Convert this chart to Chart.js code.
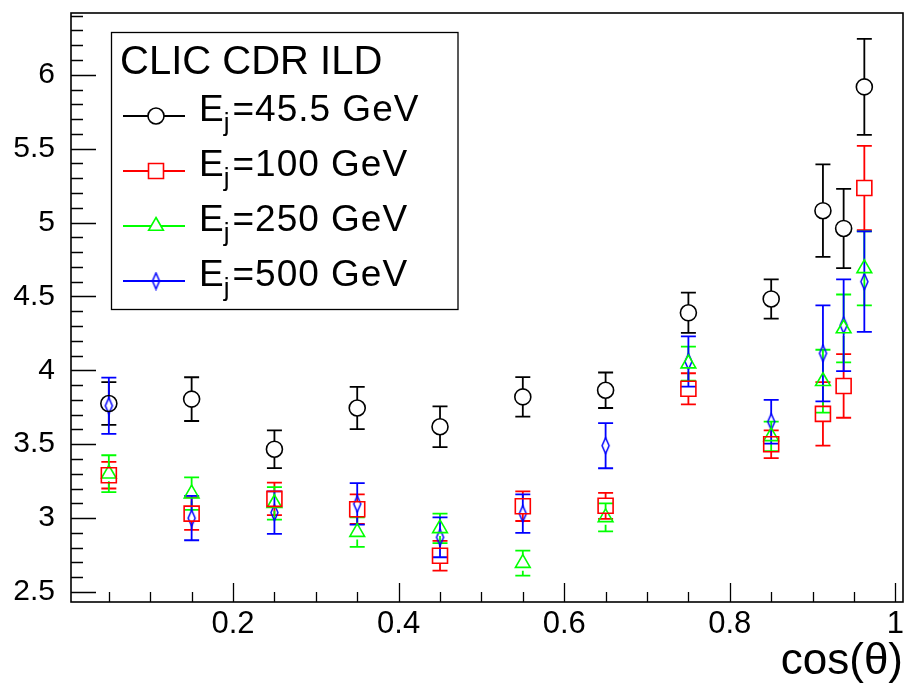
<!DOCTYPE html>
<html>
<head>
<meta charset="utf-8">
<script src="https://cdn.jsdelivr.net/npm/chart.js@4/dist/chart.umd.min.js"></script>
<style>
  html, body { margin: 0; padding: 0; background: #fff; }
  #c { display: block; }
</style>
</head>
<body>
<canvas id="c" width="904" height="686"></canvas>
<script>
// ── Datos ─────────────────────────────────────────────────────────────────

const cosTheta = [0.05, 0.15, 0.25, 0.35, 0.45, 0.55, 0.65, 0.75, 0.85, 0.9125, 0.9375, 0.9625]

const ej45 = [3.775, 3.805, 3.466, 3.745, 3.618, 3.82, 3.865, 4.389, 4.483, 5.08, 4.96, 5.918]
const ej45Err = [0.145, 0.148, 0.128, 0.143, 0.138, 0.134, 0.12, 0.136, 0.133, 0.313, 0.268, 0.325]

const ej100 = [3.29, 3.03, 3.13, 3.06, 2.745, 3.08, 3.083, 3.875, 3.5, 3.705, 3.894, 5.234]
const ej100Err = [0.09, 0.11, 0.11, 0.1, 0.1, 0.1, 0.088, 0.105, 0.094, 0.215, 0.215, 0.285]

const ej250 = [3.3, 3.165, 3.1, 2.905, 2.93, 2.695, 3.005, 4.045, 3.553, 3.926, 4.283, 4.69]
const ej250Err = [0.125, 0.11, 0.11, 0.1, 0.1, 0.085, 0.095, 0.115, 0.1, 0.213, 0.23, 0.25]

const ej500 = [3.76, 3.0, 3.037, 3.096, 2.87, 3.03, 3.49, 4.06, 3.652, 4.115, 4.305, 4.6]
const ej500Err = [0.19, 0.15, 0.144, 0.14, 0.135, 0.13, 0.153, 0.17, 0.148, 0.325, 0.31, 0.34]

const energies = ['45.5', '100', '250', '500']
const legendTitle = 'CLIC CDR ILD'
const xTitle = 'cos(\u03B8)'

const xTicks = [0.2, 0.4, 0.6, 0.8, 1]
const yTicks = [2.5, 3, 3.5, 4, 4.5, 5, 5.5, 6]

const FONT = '"Liberation Sans", Arial, Helvetica, sans-serif'

// ── Marcador rombo (azul) ─────────────────────────────────────────────────

function diamondMarker (color) {
  const cv = document.createElement('canvas')
  cv.width = 11; cv.height = 19
  const g = cv.getContext('2d')
  g.strokeStyle = color
  g.lineWidth = 1.5
  g.beginPath()
  g.moveTo(5.5, 1.5); g.lineTo(9, 9.5); g.lineTo(5.5, 17.5); g.lineTo(2, 9.5); g.closePath()
  g.stroke()
  return cv
}

function pts (ys) { return cosTheta.map((x, i) => ({ x, y: ys[i] })) }

const series = [
  { label: energies[0], data: pts(ej45), err: ej45Err, color: '#000000', style: 'circle', radius: 8, gap: 8 },
  { label: energies[1], data: pts(ej100), err: ej100Err, color: '#ff0000', style: 'rect', radius: 10.6, gap: 7.5 },
  { label: energies[2], data: pts(ej250), err: ej250Err, color: '#00ff00', style: 'triangle', radius: 8.5, gap: 7.5 },
  { label: energies[3], data: pts(ej500), err: ej500Err, color: '#0000ff', style: diamondMarker('#0000ff'), radius: 8, gap: 7 }
]

// ── Barras de error ───────────────────────────────────────────────────────

const errorBars = {
  id: 'errorBars',
  beforeDatasetsDraw (chart) {
    const ctx = chart.ctx
    const ys = chart.scales.y
    ctx.save()
    ctx.lineWidth = 1.8
    chart.data.datasets.forEach((ds, di) => {
      const meta = chart.getDatasetMeta(di)
      ctx.strokeStyle = ds.borderColor
      meta.data.forEach((el, i) => {
        const v = ds.data[i].y
        const e = ds.errors[i]
        const yt = ys.getPixelForValue(v + e)
        const yb = ys.getPixelForValue(v - e)
        const x = el.x, y = el.y, gap = ds.gap
        ctx.beginPath()
        if (y - yt > gap) { ctx.moveTo(x, yt); ctx.lineTo(x, y - gap) }
        if (yb - y > gap) { ctx.moveTo(x, y + gap); ctx.lineTo(x, yb) }
        ctx.moveTo(x - 7.5, yt); ctx.lineTo(x + 7.5, yt)
        ctx.moveTo(x - 7.5, yb); ctx.lineTo(x + 7.5, yb)
        ctx.stroke()
      })
    })
    ctx.restore()
  }
}

// ── Marco, marcas y etiquetas del eje X estilo ROOT ───────────────────────

const rootFrame = {
  id: 'rootFrame',
  afterDatasetsDraw (chart) {
    const { ctx, chartArea: a, scales: { x, y } } = chart
    ctx.save()
    ctx.strokeStyle = '#000'
    ctx.lineWidth = 1.3
    ctx.beginPath()
    for (let k = 0; k <= 40; k++) {
      const v = Math.round((2.5 + k * 0.1) * 10) / 10
      if (v > y.max) break
      const py = Math.round(y.getPixelForValue(v)) + 0.5
      const len = (Math.abs(v * 2 - Math.round(v * 2)) < 1e-6) ? 25 : 12
      ctx.moveTo(a.left, py); ctx.lineTo(a.left + len, py)
    }
    for (let k = 1; k <= 20; k++) {
      const v = k * 0.05
      const px = Math.round(x.getPixelForValue(v)) + 0.5
      const len = (k % 4 === 0) ? 19 : 10
      ctx.moveTo(px, a.bottom); ctx.lineTo(px, a.bottom - len)
    }
    ctx.stroke()
    ctx.lineWidth = 1.6
    ctx.strokeRect(a.left, a.top, a.right - a.left, a.bottom - a.top)

    // etiquetas del eje X (a mano, para no mover el área del gráfico)
    ctx.fillStyle = '#000'
    ctx.font = '31px ' + FONT
    ctx.textAlign = 'center'
    ctx.textBaseline = 'middle'
    xTicks.forEach(v => ctx.fillText(String(v), x.getPixelForValue(v), a.bottom + 22))
    ctx.restore()
  }
}

// ── Leyenda ───────────────────────────────────────────────────────────────

const rootLegend = {
  id: 'rootLegend',
  afterDraw (chart) {
    const ctx = chart.ctx
    ctx.save()
    ctx.fillStyle = '#fff'
    ctx.fillRect(111, 32, 347, 278)
    ctx.strokeStyle = '#000'
    ctx.lineWidth = 1.3
    ctx.strokeRect(111.5, 32.5, 346.5, 277)

    ctx.fillStyle = '#000'
    ctx.textBaseline = 'alphabetic'
    ctx.textAlign = 'left'
    ctx.font = '40px ' + FONT
    ctx.fillText(legendTitle, 120, 74)

    chart.data.datasets.forEach((ds, i) => {
      const base = 121 + i * 55
      const my = 116 + i * 55
      ctx.strokeStyle = ds.borderColor
      ctx.lineWidth = 1.8
      ctx.beginPath(); ctx.moveTo(123, my); ctx.lineTo(185, my); ctx.stroke()
      ctx.fillStyle = '#fff'
      ctx.lineWidth = ds.pointBorderWidth
      Chart.helpers.drawPoint(ctx, {
        pointStyle: ds.pointStyle, radius: ds.pointRadius, rotation: 0,
        borderWidth: ds.pointBorderWidth
      }, 156, my)
      ctx.fillStyle = '#000'
      ctx.letterSpacing = '1px'
      ctx.font = '37px ' + FONT
      ctx.fillText('E', 199, base)
      const wE = ctx.measureText('E').width
      ctx.letterSpacing = '0px'
      ctx.font = '26px ' + FONT
      ctx.fillText('j', 198 + wE, base + 10)
      const wj = ctx.measureText('j').width
      ctx.letterSpacing = '1px'
      ctx.font = '37px ' + FONT
      ctx.fillText('=' + ds.label + ' GeV', 198 + wE + wj + 3, base)
      ctx.letterSpacing = '0px'
    })
    ctx.restore()
  }
}

// sin márgenes automáticos de etiquetas: el área del gráfico queda fija
function fixPadding (s) {
  s.paddingLeft = 0; s.paddingRight = 0; s.paddingTop = 0; s.paddingBottom = 0
}

// ── Gráfico ───────────────────────────────────────────────────────────────

new Chart(document.getElementById('c'), {
  type: 'scatter',
  data: {
    datasets: series.map(s => ({
      label: s.label,
      data: s.data,
      errors: s.err,
      gap: s.gap,
      borderColor: s.color,
      backgroundColor: 'rgba(0,0,0,0)',
      pointStyle: s.style,
      pointRadius: s.radius,
      pointHoverRadius: s.radius,
      pointBorderWidth: 1.6,
      showLine: false
    }))
  },
  options: {
    responsive: false,
    animation: false,
    devicePixelRatio: 1,
    layout: { autoPadding: false, padding: { top: 13, right: 1, left: 0, bottom: 0 } },
    plugins: { legend: { display: false }, tooltip: { enabled: false } },
    scales: {
      x: {
        type: 'linear',
        min: 0.0043,
        max: 1.0092,
        grid: { display: false },
        border: { display: false },
        afterFit: s => { s.height = 84; fixPadding(s) },
        afterBuildTicks: s => { s.ticks = xTicks.map(v => ({ value: v })) },
        ticks: { display: false },
        title: {
          display: true,
          text: xTitle,
          align: 'end',
          color: '#000',
          font: { family: FONT, size: 44, lineHeight: 1.1 },
          padding: 0
        }
      },
      y: {
        type: 'linear',
        min: 2.432,
        max: 6.418,
        grid: { display: false },
        border: { display: false },
        afterFit: s => { s.width = 71; fixPadding(s) },
        afterBuildTicks: s => { s.ticks = yTicks.map(v => ({ value: v })) },
        ticks: {
          color: '#000',
          padding: 8,
          autoSkip: false,
          font: { family: FONT, size: 30 },
          callback: v => String(v)
        }
      }
    }
  },
  plugins: [errorBars, rootFrame, rootLegend]
})
</script>
</body>
</html>
